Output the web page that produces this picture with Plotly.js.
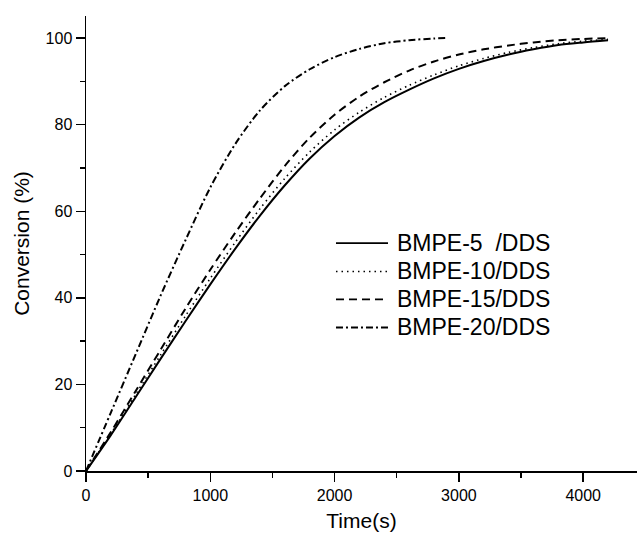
<!DOCTYPE html>
<html>
<head>
<meta charset="utf-8">
<script src="https://cdn.plot.ly/plotly-3.0.1.min.js"></script>
<style>html,body{margin:0;padding:0;background:#fff;}#chart{width:638px;height:539px;}</style>
</head>
<body>
<div id="chart"></div>
<script>
// Time (s) for the three slower systems
const timeA = [0, 200, 400, 600, 800, 1000, 1200, 1400, 1600, 1800, 2000, 2200, 2400, 2600, 2800, 3000, 3200, 3400, 3600, 3800, 4000, 4200];
// Conversion (%)
const bmpe5 = [0, 8.3, 17.1, 25.9, 34.6, 43.1, 51.3, 59.0, 66.0, 72.2, 77.4, 81.7, 85.2, 88.1, 90.7, 92.9, 94.7, 96.2, 97.4, 98.4, 99.0, 99.5];
const bmpe10 = [0, 8.6, 17.7, 26.8, 35.8, 44.5, 52.8, 60.6, 67.6, 73.7, 78.8, 82.9, 86.3, 89.1, 91.5, 93.6, 95.3, 96.7, 97.8, 98.7, 99.3, 99.7];
const bmpe15 = [0, 9, 18.5, 28, 37.5, 46.5, 55, 63, 70.5, 77, 82.3, 86.5, 89.8, 92.5, 94.6, 96.2, 97.4, 98.3, 99, 99.5, 99.8, 100];
// Time (s) and conversion (%) for BMPE-20
const timeB = [0, 200, 400, 600, 800, 1000, 1200, 1400, 1600, 1800, 2000, 2200, 2400, 2600, 2800, 2900];
const bmpe20 = [0, 13.5, 27, 40.5, 53.3, 65.5, 75.5, 83.3, 88.9, 92.8, 95.6, 97.5, 98.8, 99.5, 99.9, 100];

const names = ['BMPE-5  /DDS', 'BMPE-10/DDS', 'BMPE-15/DDS', 'BMPE-20/DDS'];
const xTicks = [0, 1000, 2000, 3000, 4000];
const yTicks = [0, 20, 40, 60, 80, 100];

const FONT = 'Liberation Sans, Arial, sans-serif';
const dashes = ['solid', '1.5px,4px', '8px,5px', '7px,3px,2px,3px'];
const widths = [2, 1.6, 2, 2];
const xs = [timeA, timeA, timeA, timeB];
const ys = [bmpe5, bmpe10, bmpe15, bmpe20];

const traces = names.map((n, i) => ({
  x: xs[i], y: ys[i], name: n, mode: 'lines', showlegend: false,
  line: {color: '#000', width: widths[i], dash: dashes[i], shape: 'spline', smoothing: 0.8}
}));

// Hand-made legend (line samples + labels) in paper coordinates
const legendLeft = 0.4537, legendRight = 0.5481, legendText = 0.5610;
const legendRows = [0.501, 0.4385, 0.377, 0.3154];
const shapes = names.map((n, i) => ({
  type: 'line', xref: 'paper', yref: 'paper',
  x0: legendLeft, x1: legendRight, y0: legendRows[i], y1: legendRows[i],
  line: {color: '#000', width: widths[i] === 2 ? 1.8 : 1.6, dash: dashes[i]}
}));
const annotations = names.map((n, i) => ({
  xref: 'paper', yref: 'paper', x: legendText, y: legendRows[i],
  xanchor: 'left', yanchor: 'middle', showarrow: false,
  text: n.replace(/  /g, '&nbsp; '), font: {family: FONT, size: 23, color: '#000'}
}));

const layout = {
  width: 638, height: 539,
  margin: {l: 86, r: 1, t: 16, b: 68},
  paper_bgcolor: '#fff', plot_bgcolor: '#fff',
  font: {family: FONT, color: '#000', size: 16},
  showlegend: false,
  shapes: shapes,
  annotations: annotations,
  xaxis: {
    range: [0, 4433], showgrid: false, zeroline: false,
    showline: true, linecolor: '#000', linewidth: 1.5,
    tickmode: 'array', tickvals: xTicks, ticktext: xTicks.map(String),
    ticks: 'outside', ticklen: 9, tickwidth: 1.5, tickcolor: '#000',
    tickfont: {family: FONT, size: 16, color: '#000'},
    minor: {ticks: 'outside', dtick: 500, tick0: 0, ticklen: 5, tickwidth: 1.5, tickcolor: '#000'},
    title: {text: 'Time(s)', font: {family: FONT, size: 21, color: '#000'}, standoff: 10}
  },
  yaxis: {
    range: [0, 105.1], showgrid: false, zeroline: false,
    showline: true, linecolor: '#000', linewidth: 1.5,
    tickmode: 'array', tickvals: yTicks, ticktext: yTicks.map(String),
    ticks: 'outside', ticklen: 9, tickwidth: 1.5, tickcolor: '#000',
    tickfont: {family: FONT, size: 16, color: '#000'},
    minor: {ticks: 'outside', dtick: 10, tick0: 0, ticklen: 5, tickwidth: 1.5, tickcolor: '#000'},
    title: {text: 'Conversion (%)', font: {family: FONT, size: 21, color: '#000'}, standoff: 10}
  }
};

Plotly.newPlot('chart', traces, layout, {displayModeBar: false, staticPlot: true});
</script>
</body>
</html>
